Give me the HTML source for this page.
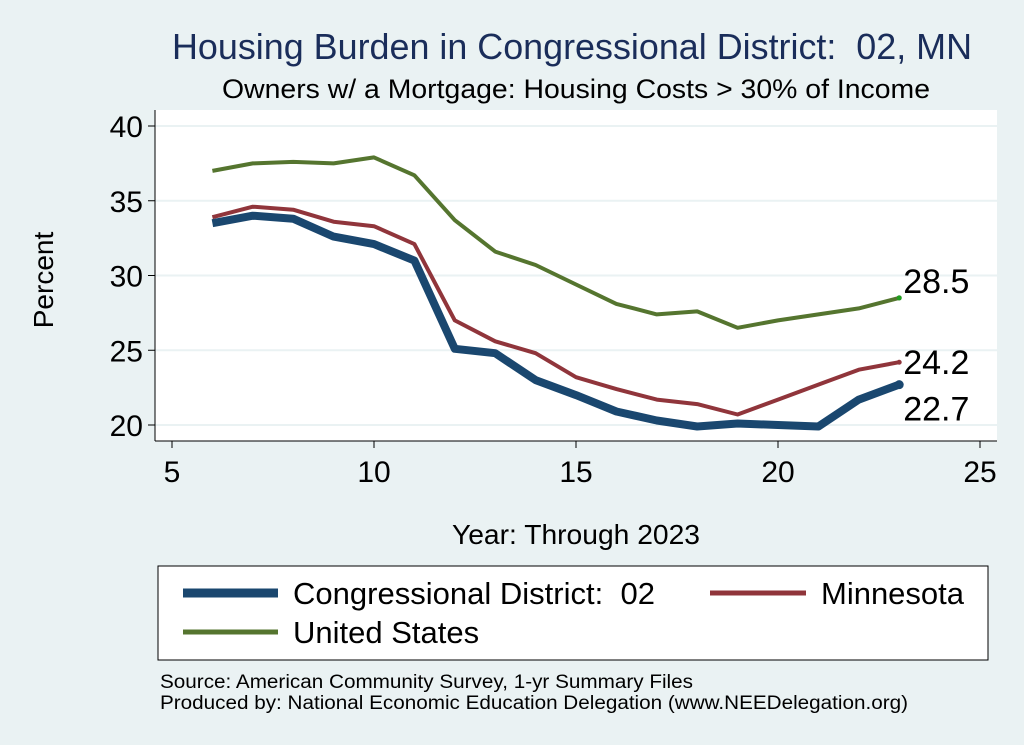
<!DOCTYPE html>
<html><head><meta charset="utf-8"><style>
body{margin:0;background:#eaf2f3;}
svg{display:block;font-family:"Liberation Sans",Arial,sans-serif;}
text{white-space:pre;}
</style></head><body>
<svg id="chart" width="1024" height="745">
<rect x="0" y="0" width="1024" height="745" fill="#eaf2f3"/>
<text x="172" y="59" font-size="36" fill="#1a2d5a" textLength="800" lengthAdjust="spacingAndGlyphs">Housing Burden in Congressional District: &#160;02, MN</text>
<text x="222" y="98" font-size="27" fill="#000" textLength="708" lengthAdjust="spacingAndGlyphs">Owners w/ a Mortgage: Housing Costs &gt; 30% of Income</text>
<rect x="155" y="110" width="842" height="331" fill="#fff"/>
<g id="grid"></g><g id="axes"></g><g id="series"></g>
<text transform="translate(53,280) rotate(-90)" text-anchor="middle" font-size="28">Percent</text>
<text x="452" y="544" font-size="28" textLength="248" lengthAdjust="spacingAndGlyphs">Year: Through 2023</text>
<g>
<rect x="158" y="566" width="830" height="94" fill="#fff" stroke="#000" stroke-width="1"/>
<line x1="183" y1="593" x2="278" y2="593" stroke="#1a476f" stroke-width="9"/>
<text x="293" y="604" font-size="31" textLength="362" lengthAdjust="spacingAndGlyphs">Congressional District: &#160;02</text>
<line x1="710" y1="593" x2="806" y2="593" stroke="#90353b" stroke-width="5"/>
<text x="821" y="604" font-size="31" textLength="143" lengthAdjust="spacingAndGlyphs">Minnesota</text>
<line x1="183" y1="632" x2="278" y2="632" stroke="#55752f" stroke-width="5"/>
<text x="293" y="643" font-size="31">United States</text>
</g>
<text x="160" y="688" font-size="19" textLength="533" lengthAdjust="spacingAndGlyphs">Source: American Community Survey, 1-yr Summary Files</text>
<text x="160" y="709" font-size="19" textLength="748" lengthAdjust="spacingAndGlyphs">Produced by: National Economic Education Delegation (www.NEEDelegation.org)</text>
</svg>
<script>
const years=[6,7,8,9,10,11,12,13,14,15,16,17,18,19,20,21,22,23];
const usVals=[37.0,37.5,37.6,37.5,37.9,36.7,33.7,31.6,30.7,29.4,28.1,27.4,27.6,26.5,27.0,27.4,27.8,28.5];
const mnVals=[33.9,34.6,34.4,33.6,33.3,32.1,27.0,25.6,24.8,23.2,22.4,21.7,21.4,20.7,21.7,22.7,23.7,24.2];
const cdVals=[33.5,34.0,33.8,32.6,32.1,31.0,25.1,24.8,23.0,22.0,20.9,20.3,19.9,20.1,20.0,19.9,21.7,22.7];
const xTicks=[5,10,15,20,25];
const yTicks=[20,25,30,35,40];
const NS="http://www.w3.org/2000/svg";
const xs=v=>172+(v-5)*40.4;
const ys=v=>425-(v-20)*14.95;
function mk(tag,attrs,parent){const e=document.createElementNS(NS,tag);for(const k in attrs)e.setAttribute(k,attrs[k]);parent.appendChild(e);return e;}
const grid=document.getElementById('grid'),axes=document.getElementById('axes'),ser=document.getElementById('series');
mk('line',{x1:155,y1:110,x2:155,y2:441,stroke:'#000','stroke-width':1},axes);
mk('line',{x1:155,y1:441,x2:997,y2:441,stroke:'#000','stroke-width':1},axes);
yTicks.forEach(t=>{
 const g=mk('line',{x1:155,x2:997,y1:ys(t),y2:ys(t),stroke:'#eaf2f3','stroke-width':2},grid);
 
 
 mk('line',{x1:148,x2:155,y1:ys(t),y2:ys(t),stroke:'#000'},axes);
 const tx=mk('text',{x:143,y:ys(t)+11,'text-anchor':'end','font-size':30},axes);
 tx.textContent=t;
 
 
});
xTicks.forEach(t=>{
 mk('line',{x1:xs(t),x2:xs(t),y1:441,y2:448,stroke:'#000'},axes);
 const tx=mk('text',{x:xs(t),y:482,'text-anchor':'middle','font-size':30},axes);
 tx.textContent=t;
 
 
});
function line(vals,color,w,name){
 const d=vals.map((v,i)=>(i?'L':'M')+xs(years[i]).toFixed(1)+','+ys(v).toFixed(1)).join('');
 const p=mk('path',{d:d,fill:'none',stroke:color,'stroke-width':w,'stroke-linejoin':'round'},ser);
 
 
 const n=vals.length-1;
 mk('circle',{cx:xs(years[n]),cy:ys(vals[n]),r:w/2+0.5,fill:color},ser);
}
line(usVals,'#55752f',4,'us-line');
line(mnVals,'#90353b',4,'minnesota-line');
line(cdVals,'#1a476f',8,'district-line');
mk('circle',{cx:xs(23),cy:ys(usVals[usVals.length-1]),r:2.5,fill:'#1f9e1f'},ser);
function lab(txt,y,name){const t=mk('text',{x:xs(23)+4,y:y,'font-size':34},ser);t.textContent=txt;
 
 }
const n=years.length-1;
lab(usVals[n].toFixed(1),ys(usVals[n])-5,'us-end-label');
lab(mnVals[n].toFixed(1),ys(mnVals[n])+12,'minnesota-end-label');
lab(cdVals[n].toFixed(1),ys(cdVals[n])+36,'district-end-label');
</script>
</body></html>
